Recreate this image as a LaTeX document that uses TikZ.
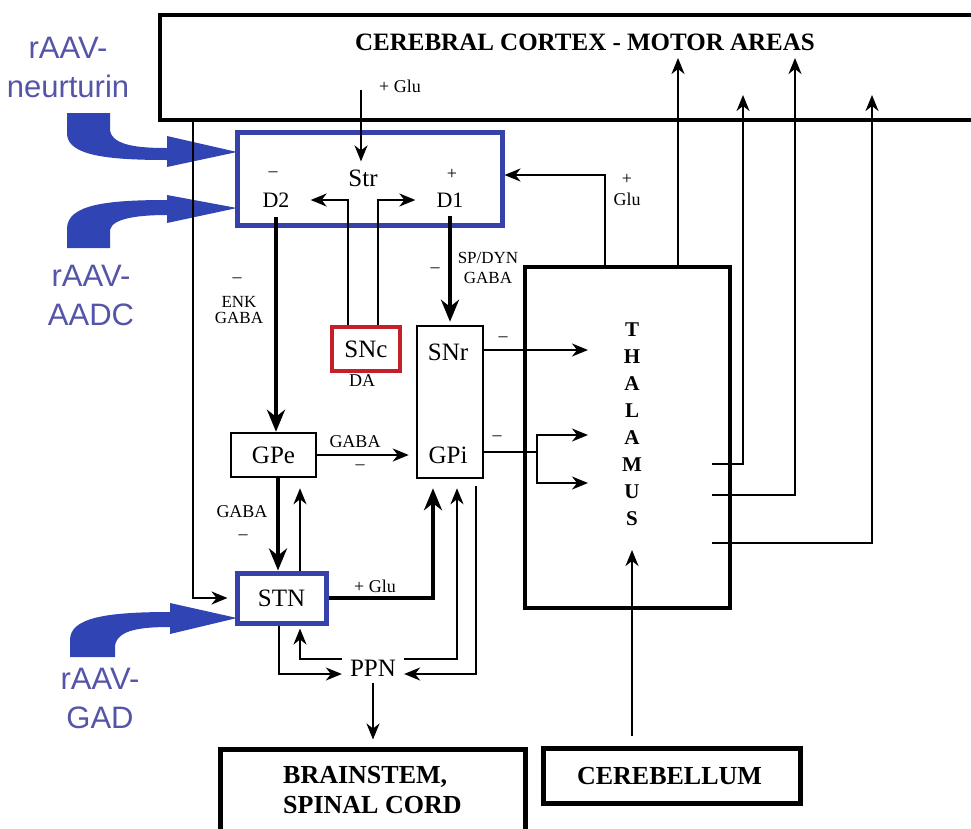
\documentclass[tikz,border=0pt]{standalone}
\usepackage{fontspec}
\setmainfont{Liberation Serif}
\newfontfamily\vecfont{Liberation Sans}
\usetikzlibrary{arrows.meta}
\definecolor{strblue}{HTML}{3741AA}
\definecolor{vecblue}{HTML}{3044B4}
\definecolor{veclabel}{HTML}{5454A8}
\definecolor{sncred}{HTML}{C4202A}
\newcommand{\pxfont}[2]{\fontsize{#1}{#2}\selectfont}

\begin{document}
\begin{tikzpicture}[x=1pt, y=-1pt, every node/.style={inner sep=0pt}, bigbox/.style={draw,line width=4pt}, outbox/.style={draw,line width=5pt}, nucbox/.style={draw,line width=2.5pt}, bluebox/.style={draw=strblue,line width=5pt}, redbox/.style={draw=sncred,line width=4pt}, nuc/.style={font=\pxfont{25}{29}}, rec/.style={font=\pxfont{22}{26}}, tag/.style={font=\pxfont{18}{20}}, boldlbl/.style={font=\bfseries\pxfont{26}{30}}, vec/.style={font=\vecfont\pxfont{31}{39},text=veclabel,align=center,anchor=north}, thin/.style={line width=2pt,-{Stealth[length=16pt,width=13pt,inset=5pt]}}, thick/.style={line width=4.5pt,-{Stealth[length=22pt,width=18pt,inset=7pt]}}, plain/.style={line width=2pt}]
\useasboundingbox (0,0) rectangle (971,828);
\clip (0,0) rectangle (971,828);
% regions
\node[bigbox, minimum width=840pt, minimum height=105pt] (cortex) at (580,67.5) {};
\node[font=\bfseries\pxfont{25}{28}] (ctxtitle) at (585,42) {CEREBRAL CORTEX - MOTOR AREAS};
\node[tag] (glu1) at (400,86) {+ Glu};
\node[bluebox, minimum width=265pt, minimum height=93pt] (str) at (369.5,178.5) {};
\node[nuc] (strlbl) at (363,178) {Str};
\node[tag] (d2sign) at (273,174) {\textendash};
\node[rec] (d2) at (276,200) {D2};
\node[tag] (d1sign) at (452,174) {+};
\node[rec] (d1) at (450,200) {D1};
\node[redbox, nuc, minimum width=68pt, minimum height=44pt] (snc) at (366,349) {SNc};
\node[tag] (da) at (362,381) {DA};
\node[nucbox, minimum width=66pt, minimum height=152pt] (snrgpi) at (450,402) {};
\node[nuc] (snr) at (448,352) {SNr};
\node[nuc] (gpi) at (448,455) {GPi};
\node[nucbox, nuc, minimum width=85pt, minimum height=44pt] (gpe) at (273.5,455) {GPe};
\node[bluebox, nuc, minimum width=89pt, minimum height=50pt] (stn) at (281.5,598) {STN};
\node[nuc, inner xsep=8pt, minimum height=30pt] (ppn) at (373,668) {PPN};
\node[bigbox, minimum width=205pt, minimum height=341pt] (thal) at (627.5,437.5) {};
\node[font=\bfseries\pxfont{21}{27}, align=center, anchor=north] (thallbl) at (632,323) {T\\H\\A\\L\\A\\M\\U\\S};
\node[outbox, minimum width=257pt, minimum height=55pt] (cereb) at (671.5,775.5) {};
\node[boldlbl] (cereblbl) at (669.5,776) {CEREBELLUM};
\node[outbox, minimum width=305pt, minimum height=121pt] (brain) at (372.5,809.5) {};
\node[boldlbl, align=left, anchor=north west] (brainlbl) at (283,766) {BRAINSTEM,\\SPINAL CORD};
% pathway labels
\node[tag] (enkminus) at (237,280) {\textendash};
\node[tag, align=center, font=\pxfont{17}{16}] (enk) at (239,310) {ENK\\GABA};
\node[tag] (dynminus) at (435,270) {\textendash};
\node[tag, align=center, font=\pxfont{17}{20}] (dyn) at (488,268) {SP/DYN\\GABA};
\node[tag] (gpegaba) at (355,442) {GABA};
\node[tag] (gpeminus) at (360,467) {\textendash};
\node[tag] (stngaba) at (242,512) {GABA};
\node[tag] (stnminus) at (243,537) {\textendash};
\node[tag] (glu2) at (375,586) {+ Glu};
\node[tag] (snrminus) at (503,339) {\textendash};
\node[tag] (gpiminus) at (497,438) {\textendash};
\node[tag] (thplus) at (627,179) {+};
\node[tag] (glu3) at (627,199) {Glu};
% gene vectors
\fill[vecblue] (67,113) -- (110,113) -- (110,130) .. controls (112,146) and (140,148) .. (167,148) -- (167,136) -- (237,152) -- (167,167) -- (167,160) .. controls (105,160) and (68,155) .. (67,134) -- cycle;
\fill[vecblue] (67,248) -- (110,248) -- (110,230) .. controls (112,218) and (140,215) .. (167,215) -- (167,223) -- (237,208) -- (167,195) -- (167,200) .. controls (105,200) and (68,205) .. (67,228) -- cycle;
\fill[vecblue] (70,657) -- (115,657) -- (115,646) .. controls (117,630) and (140,627) .. (170,627) -- (170,634) -- (237,618) -- (170,603) -- (170,612) .. controls (105,612) and (70,618) .. (70,640) -- cycle;
\node[vec] (neurturin) at (68,37) {rAAV-\\neurturin};
\node[vec] (aadc) at (91,265) {rAAV-\\AADC};
\node[vec] (gad) at (100,668) {rAAV-\\GAD};
% connections
\coordinate (gluin) at (361,90);
\coordinate (leftdrop) at (193,120);
\coordinate (thsnr) at (588,350);
\coordinate (gpibr) at (537,452);
\coordinate (thgpi1) at (588,435);
\coordinate (thgpi2) at (588,483);
\coordinate (ctx1) at (678,58);
\coordinate (ctx2) at (743,95);
\coordinate (ctx3) at (795,58);
\coordinate (ctx4) at (872,95);
\coordinate (thout1) at (712,464);
\coordinate (thout2) at (712,495);
\coordinate (thout3) at (712,543);
\coordinate (thcb) at (632,550);
\draw[thin, shorten >=8pt] (gluin) -- (gluin |- strlbl.north);
\draw[thin] ([xshift=-18pt]snc.north) |- ([xshift=21pt]d2.east);
\draw[thin] ([xshift=12pt]snc.north) |- ([xshift=-21pt]d1.west);
\draw[thick, shorten <=9pt] (d2.south) -- (d2.south |- gpe.north);
\draw[thick, shorten <=9pt, shorten >=3pt] (d1.south) -- (d1.south |- snrgpi.north);
\draw[thin] (thsnr -| snrgpi.east) -- (thsnr);
\draw[plain] (gpibr -| snrgpi.east) -- (gpibr);
\draw[thin] (gpibr) |- (thgpi1);
\draw[thin] (gpibr) |- (thgpi2);
\draw[thin, shorten >=7pt] (gpe.east) -- (gpe.east -| snrgpi.west);
\draw[thick] ([xshift=4.5pt]gpe.south) -- ([xshift=4.5pt]gpe.south |- stn.north);
\draw[thin, shorten >=10pt] ([xshift=26.5pt]gpe.south |- stn.north) -- ([xshift=26.5pt]gpe.south);
\draw[thick, shorten >=9pt] (stn.east) -| ([xshift=-17pt]snrgpi.south);
\draw[thin, shorten >=7pt] (leftdrop) |- (stn.west);
\draw[thin] ([xshift=-22.5pt]thal.north) |- ([yshift=3.5pt]str.east);
\draw[thin] (thal.north -| ctx1) -- (ctx1);
\draw[thin] (thout1) -| (ctx2);
\draw[thin] (thout2) -| (ctx3);
\draw[thin] (thout3) -| (ctx4);
\draw[thin, shorten <=10pt] (cereb.north -| thcb) -- (thcb);
\draw[thin, shorten >=3pt] ([yshift=9pt]ppn.west) -| ([xshift=18.5pt]stn.south);
\draw[thin] ([xshift=-2.5pt]stn.south) |- ([yshift=-6pt]ppn.west);
\draw[thin, shorten >=9pt] ([yshift=9pt]ppn.east) -| ([xshift=7pt]snrgpi.south);
\draw[thin, shorten <=7pt] ([xshift=26pt]snrgpi.south) |- ([yshift=-6pt]ppn.east);
\draw[thin, shorten >=7pt] (ppn.south) -- (ppn.south |- brain.north);
\end{tikzpicture}
\end{document}
